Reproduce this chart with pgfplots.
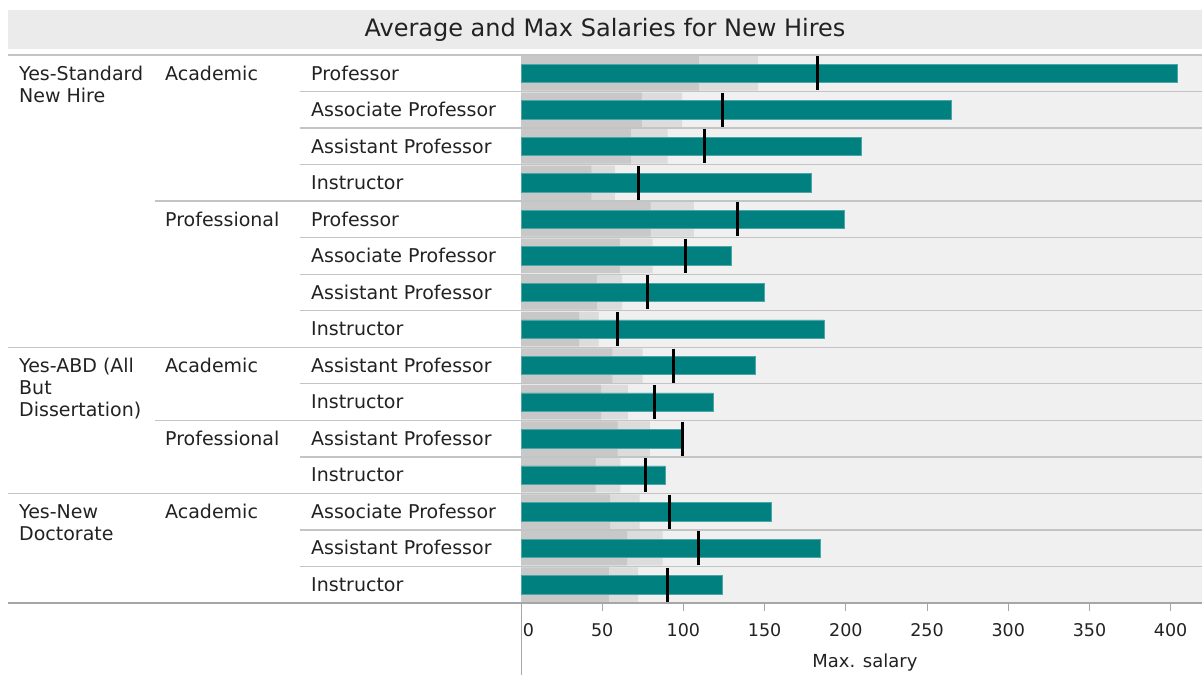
\documentclass[border=0pt]{standalone}
\usepackage{fontspec}
\setmainfont{DejaVu Sans}
\usepackage{pgfplots}
\pgfplotsset{compat=1.18}
\definecolor{tealbar}{HTML}{00807F}
\definecolor{banddark}{HTML}{C8C8C8}
\definecolor{bandmed}{HTML}{DCDCDC}
\definecolor{bglight}{HTML}{F0F0F0}
\definecolor{sepline}{HTML}{C4C4C4}
\definecolor{titlebg}{HTML}{EBEBEB}
\definecolor{txt}{HTML}{222222}
\newcommand{\lbl}{\fontsize{19}{22}\selectfont}
\begin{document}
\begin{tikzpicture}
\path[use as bounding box] (0,0) rectangle (1202pt,675pt);
\begin{scope}[x=1pt,y=-1pt,yshift=675pt]
  \fill[titlebg] (8,10) rectangle (1202,49);
  \node[anchor=base, text=txt, font=\fontsize{24}{28}\selectfont, inner sep=0pt] at (605,37) {Average and Max Salaries for New Hires};
\end{scope}
\begin{axis}[
  at={(521pt,72pt)}, anchor=south west,
  scale only axis, width=681pt, height=548pt,
  xmin=0, xmax=419.3, ymin=0.5, ymax=15.5, y dir=reverse,
  axis background/.style={fill=bglight},
  axis line style={draw=none},
  ytick=\empty,
  xtick={0,50,100,150,200,250,300,350,400},
  xticklabels={\hspace*{15pt}0,50,100,150,200,250,300,350,400},
  xtick pos=bottom, tick align=outside, major tick length=8pt,
  tick style={draw=black!35, line width=0.8pt},
  xticklabel style={font=\fontsize{17.5}{20}\selectfont, text=txt, inner sep=0pt, anchor=north, yshift=-12pt},
  xlabel={Max. salary},
  xlabel style={at={(axis description cs:0.505,0)}, anchor=base, yshift=-64pt, font=\fontsize{18}{22}\selectfont, text=txt, inner sep=0pt},
  clip=false,
]
% 80% of average band
\addplot[xbar, bar width=34.5pt, bar shift=0pt, fill=bandmed, draw=none] coordinates {
 (146.0,1) (99.2,2) (90.2,3) (57.8,4) (106.4,5) (81.1,6) (62.2,7) (47.8,8)
 (74.9,9) (65.8,10) (79.4,11) (61.2,12) (73.0,13) (87.2,14) (72.1,15)};
% 60% of average band
\addplot[xbar, bar width=34.5pt, bar shift=0pt, fill=banddark, draw=none] coordinates {
 (109.5,1) (74.4,2) (67.6,3) (43.3,4) (79.8,5) (60.8,6) (46.7,7) (35.8,8)
 (56.2,9) (49.4,10) (59.5,11) (45.9,12) (54.8,13) (65.4,14) (54.1,15)};
% max salary
\addplot[xbar, bar width=18.4pt, bar shift=0pt, fill=tealbar, draw=tealbar!70!white, line width=0.6pt] coordinates {
 (404.0,1) (264.8,2) (209.4,3) (178.8,4) (199.1,5) (129.3,6) (149.6,7) (186.8,8)
 (144.1,9) (118.2,10) (98.8,11) (88.9,12) (154.1,13) (184.5,14) (124.0,15)};
% average salary
\addplot[only marks, mark=|, mark size=17pt, mark options={line width=3pt, draw=black}] coordinates {
 (182.5,1) (124.0,2) (112.7,3) (72.2,4) (133.0,5) (101.4,6) (77.8,7) (59.7,8)
 (93.6,9) (82.3,10) (99.2,11) (76.5,12) (91.3,13) (109.0,14) (90.1,15)};
\end{axis}
\begin{scope}[x=1pt,y=-1pt,yshift=675pt]
  \draw[sepline, line width=1.3pt] (8,55) -- (1202,55);
  \foreach \i in {1,2,3,5,6,7,9,11,13,14}
    \draw[sepline, line width=1.3pt] (300,{55+36.533*\i}) -- (1202,{55+36.533*\i});
  \foreach \i in {4,10}
    \draw[sepline, line width=1.3pt] (155,{55+36.533*\i}) -- (1202,{55+36.533*\i});
  \foreach \i in {8,12}
    \draw[sepline, line width=1.3pt] (8,{55+36.533*\i}) -- (1202,{55+36.533*\i});
  \draw[black!35, line width=1.3pt] (8,603) -- (1202,603);
  \draw[black!35, line width=1pt] (521,603) -- (521,675);
  \foreach \i/\t in {1/Professor,2/Associate Professor,3/Assistant Professor,4/Instructor,
      5/Professor,6/Associate Professor,7/Assistant Professor,8/Instructor,
      9/Assistant Professor,10/Instructor,11/Assistant Professor,12/Instructor,
      13/Associate Professor,14/Assistant Professor,15/Instructor}
    \node[anchor=base west, inner sep=0pt, text=txt, font=\lbl] at (311,{55+36.533*(\i-0.5)+6.8}) {\t};
  \foreach \i/\t in {1/Academic,5/Professional,9/Academic,11/Professional,13/Academic}
    \node[anchor=base west, inner sep=0pt, text=txt, font=\lbl] at (165,{55+36.533*(\i-0.5)+6.8}) {\t};
  \node[anchor=base west, inner sep=0pt, text=txt, font=\lbl] at (19,{55+36.533*0.5+6.8}) {Yes-Standard};
  \node[anchor=base west, inner sep=0pt, text=txt, font=\lbl] at (19,{55+36.533*0.5+6.8+22.5}) {New Hire};
  \node[anchor=base west, inner sep=0pt, text=txt, font=\lbl] at (19,{55+36.533*8.5+6.8}) {Yes-ABD (All};
  \node[anchor=base west, inner sep=0pt, text=txt, font=\lbl] at (19,{55+36.533*8.5+6.8+22.5}) {But};
  \node[anchor=base west, inner sep=0pt, text=txt, font=\lbl] at (19,{55+36.533*8.5+6.8+44}) {Dissertation)};
  \node[anchor=base west, inner sep=0pt, text=txt, font=\lbl] at (19,{55+36.533*12.5+6.8}) {Yes-New};
  \node[anchor=base west, inner sep=0pt, text=txt, font=\lbl] at (19,{55+36.533*12.5+6.8+22.5}) {Doctorate};
\end{scope}
\end{tikzpicture}
\end{document}
